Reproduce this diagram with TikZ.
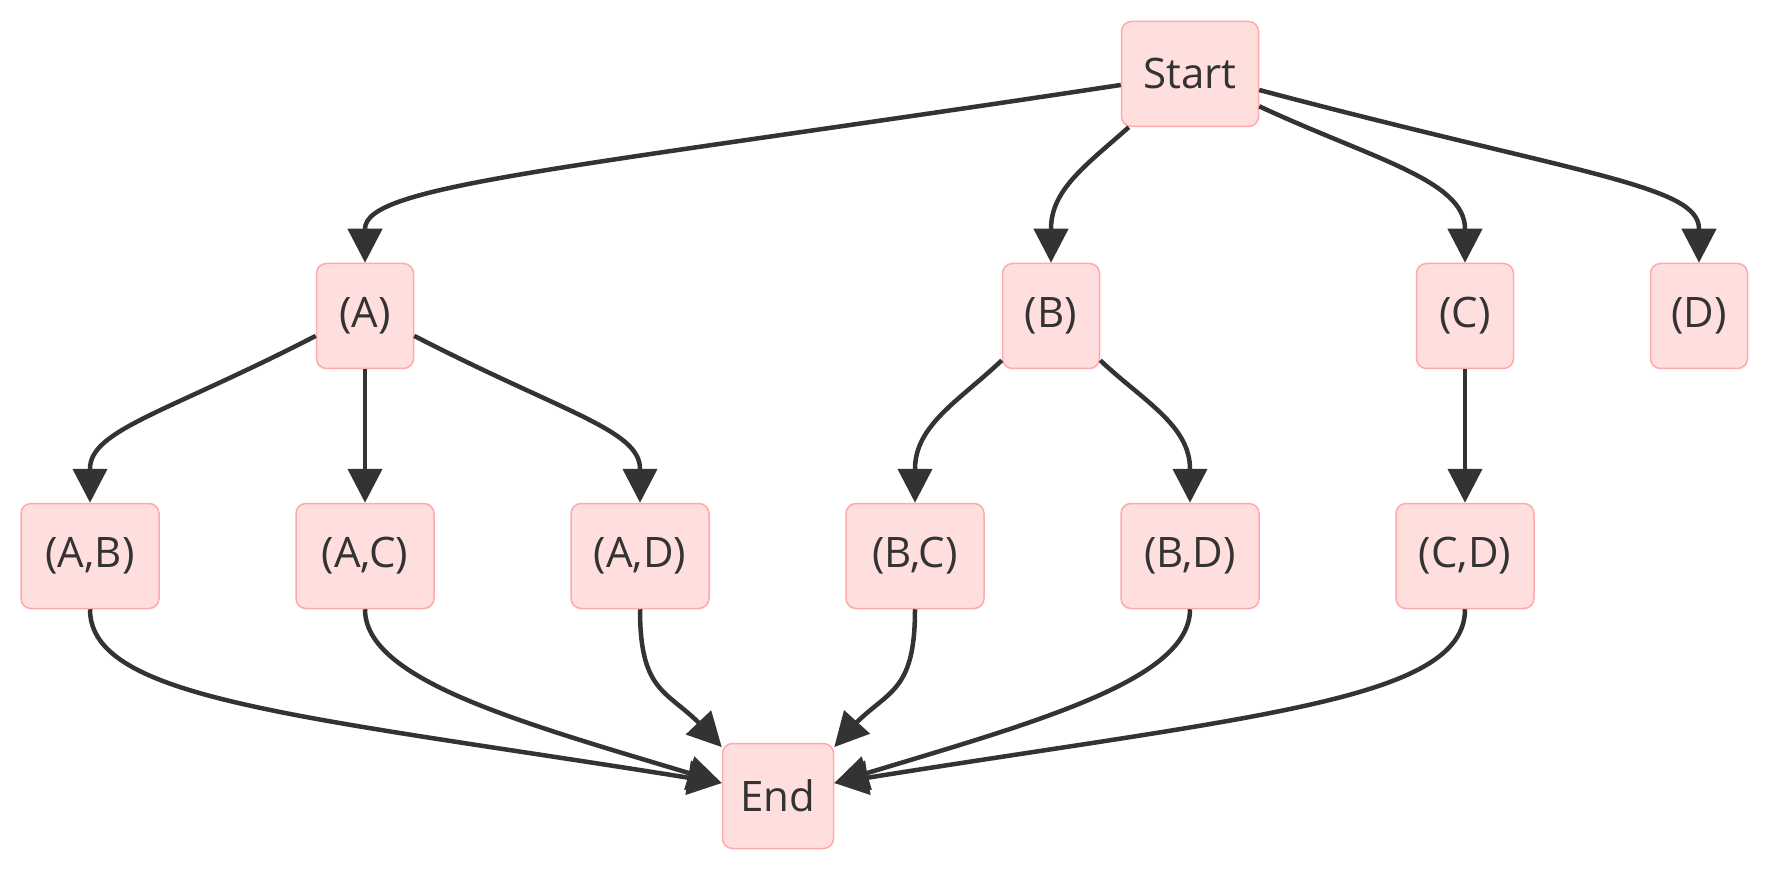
\documentclass[tikz,border=0pt]{standalone}
\usepackage{fontspec}
\setmainfont{Open Sans}
\usetikzlibrary{arrows.meta}
\definecolor{nodefill}{HTML}{FFDEDE}
\definecolor{nodedraw}{HTML}{FFAAAA}
\definecolor{edgecol}{HTML}{333333}
\definecolor{txtcol}{HTML}{333333}
\begin{document}
\begin{tikzpicture}[x=1pt,y=-1pt,
  box/.style={draw=nodedraw, fill=nodefill, line width=1.5pt, rounded corners=10pt,
    minimum height=105pt, inner sep=0pt, text=txtcol, font=\fontsize{42}{50}\selectfont},
  single/.style={box, minimum width=97pt},
  pair/.style={box, minimum width=138pt},
  edge/.style={draw=edgecol, line width=4.5pt, -{Triangle[length=34pt,width=34pt]}},
]
\useasboundingbox (0,0) rectangle (1770,874);
% nodes
\node[box, minimum width=137pt] (Start) at (1190,74) {Start};
\node[single] (A) at (365,316) {(A)};
\node[single] (B) at (1051,316) {(B)};
\node[single] (C) at (1465,316) {(C)};
\node[single] (D) at (1699,316) {(D)};
\node[pair] (AB) at (90,556) {(A,B)};
\node[pair] (AC) at (365,556) {(A,C)};
\node[pair] (AD) at (640,556) {(A,D)};
\node[pair] (BC) at (915,556) {(B,C)};
\node[pair] (BD) at (1190,556) {(B,D)};
\node[pair] (CD) at (1465,556) {(C,D)};
\node[box, minimum width=111pt] (End) at (778,796) {End};
% edges from Start
\draw[edge] (Start.189) .. controls (560,170) and (365,185) .. (365,229) -- (A.north);
\draw[edge] (Start.221) .. controls (1085,166) and (1051,190) .. (1051,229) -- (B.north);
\draw[edge] (Start.335) .. controls (1370,158) and (1465,180) .. (1465,229) -- (C.north);
\draw[edge] (Start.347) .. controls (1580,175) and (1699,185) .. (1699,229) -- (D.north);
% second level
\draw[edge] (A.202) .. controls (166,413) and (90,430) .. (90,469) -- (AB.north);
\draw[edge] (A.south) -- (AC.north);
\draw[edge] (A.338) .. controls (564,413) and (640,430) .. (640,469) -- (AD.north);
\draw[edge] (B.222) .. controls (960,400) and (915,425) .. (915,469) -- (BC.north);
\draw[edge] (B.318) .. controls (1142,400) and (1190,425) .. (1190,469) -- (BD.north);
\draw[edge] (C.south) -- (CD.north);
% into End
\draw[edge] (AB.south) .. controls (90,700) and (300,715.6) .. (689,777.8) -- (End.167);
\draw[edge] (AC.south) .. controls (365,680) and (520,722) .. (690,773.4) -- (End.167);
\draw[edge] (AD.south) .. controls (640,690) and (665,690) .. (698,722) -- (End.139);
\draw[edge] (BC.south) .. controls (915,690) and (890,690) .. (857,722) -- (End.41);
\draw[edge] (BD.south) .. controls (1190,680) and (1036,722) .. (866,773.4) -- (End.13);
\draw[edge] (CD.south) .. controls (1465,700) and (1256,715.6) .. (867,777.8) -- (End.13);
\end{tikzpicture}
\end{document}
